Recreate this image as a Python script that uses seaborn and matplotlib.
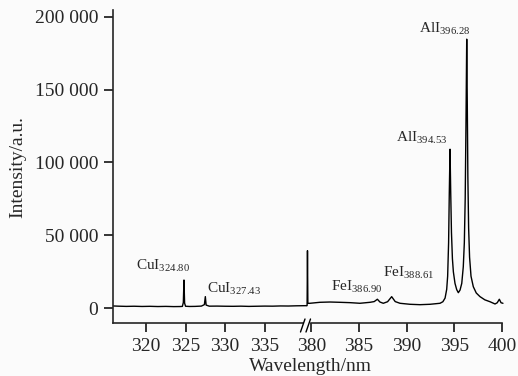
import matplotlib
matplotlib.use("Agg")
import matplotlib.pyplot as plt
import seaborn as sns
import pandas as pd
from matplotlib.ticker import FuncFormatter, FixedLocator
from matplotlib.lines import Line2D

# ---------------- data ----------------
left_wl = [315.83, 316.5, 317.5, 318.5, 319.5, 320.5, 321.5, 322.5, 323.5, 324.3, 324.6,
           324.72, 324.8, 324.88, 325.0, 325.5, 326.2, 327.0, 327.38, 327.5, 327.6, 328.0,
           329.0, 330.0, 331.0, 332.0, 333.0, 334.0, 335.0, 336.0, 337.0, 338.0, 339.0, 340.35]
left_int = [1600, 1450, 1300, 1400, 1250, 1350, 1200, 1300, 1150, 1200, 1300,
            4000, 19400, 3500, 1400, 1250, 1300, 1500, 2500, 8000, 2200, 1450,
            1500, 1400, 1350, 1450, 1300, 1400, 1500, 1450, 1600, 1550, 1700, 1800]

right_wl = [379.56, 379.6, 379.64, 379.86, 380.9, 381.96, 383.0, 384.06, 385.1, 386.16,
            386.6, 386.93, 387.2, 387.55, 388.0, 388.43, 388.8, 389.3, 390.35, 391.4,
            392.45, 393.5, 393.8, 394.03, 394.2, 394.3, 394.4, 394.47, 394.55, 394.62,
            394.7, 394.8, 394.9, 395.07, 395.25, 395.42, 395.6, 395.78, 395.94, 396.05,
            396.14, 396.22, 396.3, 396.36, 396.42, 396.5, 396.6, 396.75, 396.99, 397.3,
            397.69, 398.2, 398.74, 399.27, 399.5, 399.72, 399.9, 400.1]
right_int = [1800, 39500, 3400, 3430, 4100, 4300, 4100, 3860, 3430, 4100,
             4600, 6200, 4300, 3430, 4500, 7960, 4600, 3430, 2740, 2470,
             2740, 3430, 4500, 7000, 13000, 22000, 45000, 78000, 109100, 80000,
             52000, 34000, 25000, 17100, 12800, 10700, 12500, 17100, 28500, 45000,
             75000, 125000, 184600, 140000, 90000, 55000, 35000, 22000, 14800, 10500,
             8000, 5800, 4500, 2950, 3800, 6200, 3800, 3430]

left_ticks = [320, 325, 330, 335]
right_ticks = [380, 385, 390, 395, 400]
y_ticks = [0, 50000, 100000, 150000, 200000]

label_names = ["CuI", "CuI", "FeI", "FeI", "AlI", "AlI"]
label_subs = ["324.80", "327.43", "386.90", "388.61", "394.53", "396.28"]
label_x = [318.74, 327.71, 382.03, 387.49, 388.88, 391.33]
label_y = [26300, 10500, 12100, 21700, 114300, 188900]
label_panel = ["L", "L", "R", "R", "R", "R"]

# ---------------- style ----------------
sns.set_style("ticks")
plt.rcParams["font.family"] = ["Liberation Serif", "DejaVu Serif"]
plt.rcParams["mathtext.fontset"] = "custom"
plt.rcParams["mathtext.rm"] = "Liberation Serif"
plt.rcParams["mathtext.it"] = "Liberation Serif:italic"
plt.rcParams["mathtext.bf"] = "Liberation Serif:bold"

W, H = 518, 376
fig = plt.figure(figsize=(W / 100, H / 100), dpi=100)
bg = "#fbfbfb"
fig.patch.set_facecolor(bg)

def fx(px):
    return px / W

def fy(py):
    return 1 - py / H

ax_bottom, ax_top = 323.3, 10
axL = fig.add_axes([fx(113), fy(ax_bottom), fx(307 - 113), (ax_bottom - ax_top) / H])
axR = fig.add_axes([fx(307), fy(ax_bottom), fx(502 - 307), (ax_bottom - ax_top) / H])

ylim = (-10300, 204600)

dfL = pd.DataFrame({"wl": left_wl, "I": left_int})
dfR = pd.DataFrame({"wl": right_wl, "I": right_int})
sns.lineplot(data=dfL, x="wl", y="I", ax=axL, color="black", linewidth=1.0, estimator=None)
sns.lineplot(data=dfR, x="wl", y="I", ax=axR, color="black", linewidth=1.0, estimator=None)
for ln in axR.get_lines():
    ln.set_clip_on(False)

axL.set_xlim(315.83, 340.35)
axR.set_xlim(379.55, 400.0)
for ax in (axL, axR):
    ax.set_ylim(*ylim)
    ax.set_facecolor("none")
    ax.set_xlabel("")
    ax.set_ylabel("")
    ax.spines["top"].set_visible(False)
    ax.spines["right"].set_visible(False)
    ax.spines["bottom"].set_linewidth(1.2)
    ax.tick_params(axis="both", direction="out", length=6.5, width=1.1,
                   labelsize=14, pad=4, color="black")

axL.spines["left"].set_linewidth(1.2)
axL.spines["bottom"].set_bounds(315.83, 339.84)
axR.spines["bottom"].set_bounds(379.97, 400.0)
axR.spines["left"].set_visible(False)
axR.tick_params(axis="y", left=False, labelleft=False)

axL.xaxis.set_major_locator(FixedLocator(left_ticks))
axR.xaxis.set_major_locator(FixedLocator(right_ticks))
axL.yaxis.set_major_locator(FixedLocator(y_ticks))
axL.yaxis.set_major_formatter(FuncFormatter(lambda v, p: f"{int(v):,}".replace(",", " ")))

axL.set_ylabel("Intensity/a.u.", fontsize=14, labelpad=6)
fig.text(fx(310), fy(371), "Wavelength/nm", fontsize=14, ha="center", va="baseline")

# annotations
for name, sub, x, y, panel in zip(label_names, label_subs, label_x, label_y, label_panel):
    ax = axL if panel == "L" else axR
    ax.text(x, y, name + r"$_{\mathregular{" + sub + "}}$", fontsize=11,
            ha="left", va="baseline", clip_on=False)

# axis break marks
for x0 in (300.5, 306.0):
    fig.add_artist(Line2D([fx(x0), fx(x0 + 4.5)], [fy(332), fy(319)],
                          color="black", linewidth=1.0, transform=fig.transFigure))

fig.savefig("out.png", dpi=100, facecolor=bg)
